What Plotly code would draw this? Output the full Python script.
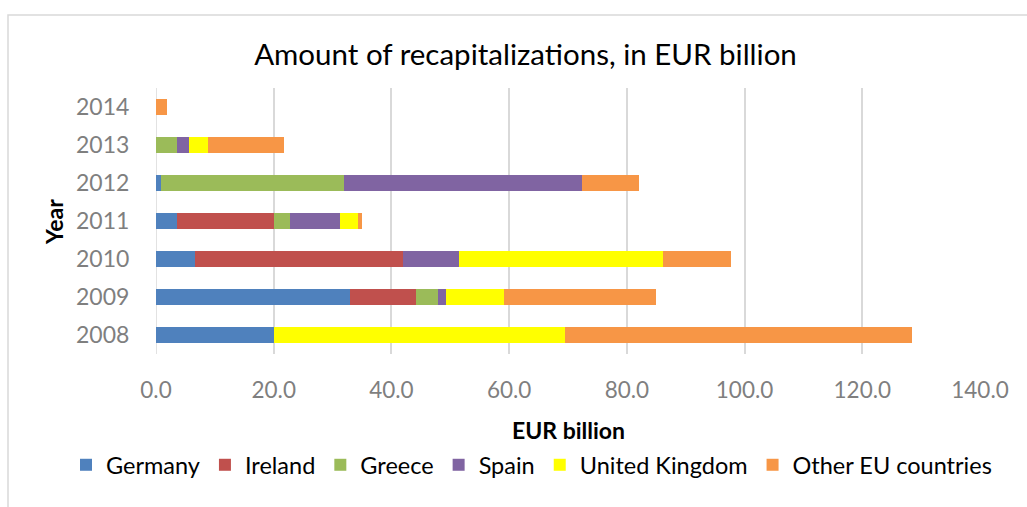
import plotly.graph_objects as go

# Recapitalization amounts by year, EUR billion
years = ["2008", "2009", "2010", "2011", "2012", "2013", "2014"]
germany = [20.0, 33.0, 6.7, 3.6, 0.9, 0.0, 0.0]
ireland = [0.0, 11.1, 35.3, 16.5, 0.0, 0.0, 0.0]
greece = [0.0, 3.8, 0.0, 2.7, 31.0, 3.5, 0.0]
spain = [0.0, 1.3, 9.5, 8.5, 40.4, 2.1, 0.0]
united_kingdom = [49.5, 9.9, 34.6, 3.1, 0.0, 3.3, 0.0]
other_eu = [58.9, 25.8, 11.6, 0.6, 9.8, 12.8, 1.9]

x_ticks = [0, 20, 40, 60, 80, 100, 120, 140]
x_tick_labels = ["0.0", "20.0", "40.0", "60.0", "80.0", "100.0", "120.0", "140.0"]

series = [
    ("Germany", germany, "#4F81BD"),
    ("Ireland", ireland, "#C0504D"),
    ("Greece", greece, "#9BBB59"),
    ("Spain", spain, "#8064A2"),
    ("United Kingdom", united_kingdom, "#FFFF00"),
    ("Other EU countries", other_eu, "#F79646"),
]

FONT = "Lato, 'Open Sans', sans-serif"
GRID = "#D9D9D9"

fig = go.Figure()
for name, values, color in series:
    fig.add_trace(go.Bar(
        y=years, x=values, name=name, orientation="h",
        marker=dict(color=color, line=dict(width=0)),
    ))

# plot area in pixels: left 156, right 980, top 88, bottom 354
L, R, T, B = 156, 980, 88, 354
W, H = 1027, 507
pw, ph = R - L, B - T

def px_x(x):
    return (x - L) / pw

def px_y(y):
    return (B - y) / ph

fig.update_layout(
    width=W, height=H,
    margin=dict(l=L, r=W - R, t=T, b=H - B, autoexpand=False),
    barmode="stack",
    bargap=0.6,
    plot_bgcolor="white",
    paper_bgcolor="white",
    font=dict(family=FONT, color="#7F7F7F"),
    title=dict(
        text="Amount of recapitalizations, in EUR billion",
        font=dict(family=FONT, size=29.5, color="#000000"),
        x=525.5 / W, xref="container", xanchor="center",
        y=1 - 55 / H, yref="container", yanchor="middle",
    ),
    xaxis=dict(
        range=[0, 140],
        tickvals=x_ticks, ticktext=x_tick_labels,
        showgrid=True, gridcolor=GRID, gridwidth=1.5,
        zeroline=False, showline=False,
        tickfont=dict(family=FONT, size=22.5, color="#7F7F7F"),
        ticks="outside", ticklen=16, tickcolor="rgba(0,0,0,0)",
        fixedrange=True,
    ),
    yaxis=dict(
        categoryorder="array", categoryarray=years,
        showgrid=False, zeroline=False,
        showline=False,
        tickfont=dict(family=FONT, size=23, color="#7F7F7F"),
        ticks="outside", ticklen=21, tickcolor="rgba(0,0,0,0)",
        fixedrange=True,
    ),
    legend=dict(
        orientation="h",
        x=px_x(66), xanchor="left",
        y=px_y(465), yanchor="middle",
        font=dict(family=FONT, size=23.5, color="#000000"),
        traceorder="normal",
        itemclick=False, itemdoubleclick=False,
    ),
    showlegend=True,
)

# category axis line along the zero position
fig.add_shape(type="line", xref="x", yref="paper", x0=0, x1=0, y0=0, y1=1,
              line=dict(color=GRID, width=1.5), layer="below")

# chart frame
fig.add_shape(type="rect", xref="paper", yref="paper",
              x0=px_x(8), x1=px_x(1040), y0=px_y(520), y1=px_y(15),
              line=dict(color=GRID, width=1.5), fillcolor="rgba(0,0,0,0)")

# axis titles
fig.add_annotation(
    text="<b>Year</b>", textangle=-90,
    xref="paper", yref="paper", x=px_x(54), y=px_y(222),
    xanchor="center", yanchor="middle", showarrow=False,
    font=dict(family=FONT, size=23, color="#000000"),
)
fig.add_annotation(
    text="<b>EUR billion</b>",
    xref="paper", yref="paper", x=0.5, y=px_y(430),
    xanchor="center", yanchor="middle", showarrow=False,
    font=dict(family=FONT, size=23, color="#000000"),
)

fig.write_html("out.html", config={"displayModeBar": False})
